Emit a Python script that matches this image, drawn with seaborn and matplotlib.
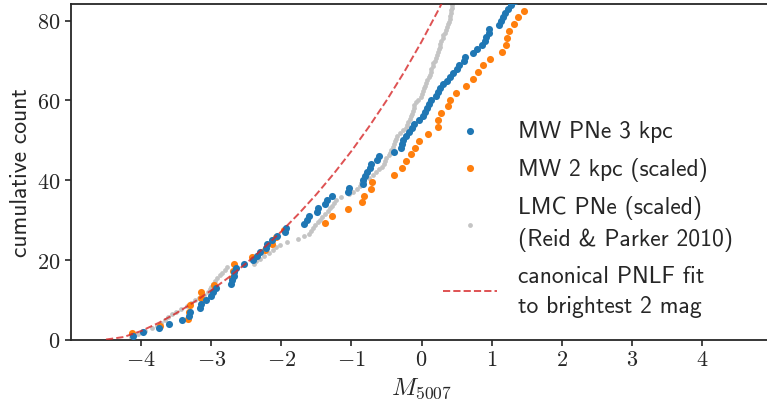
import numpy as np
import pandas as pd
import matplotlib
matplotlib.use("Agg")
import matplotlib.pyplot as plt
import seaborn as sns

# magnitudes (cumulative count = rank * scale)
mw3_mag = [-4.12, -3.97, -3.74, -3.60, -3.41, -3.31, -3.30, -3.16, -3.15, -3.08,
           -3.00, -2.98, -2.93, -2.72, -2.70, -2.68, -2.67, -2.65, -2.53, -2.40,
           -2.35, -2.30, -2.22, -2.20, -2.13, -2.06, -1.95, -1.93, -1.67, -1.64,
           -1.60, -1.49, -1.47, -1.37, -1.35, -1.27, -1.05, -1.04, -0.84, -0.83,
           -0.81, -0.78, -0.74, -0.72, -0.64, -0.61, -0.39, -0.29, -0.28, -0.27,
           -0.22, -0.18, -0.14, -0.10, -0.03, 0.02, 0.05, 0.08, 0.11, 0.14,
           0.20, 0.23, 0.26, 0.30, 0.36, 0.40, 0.45, 0.50, 0.53, 0.61,
           0.62, 0.73, 0.79, 0.87, 0.90, 0.92, 0.96, 0.97, 1.11, 1.13,
           1.16, 1.19, 1.23, 1.27, 1.33]
mw3_scale = 1.0

mw2_mag = [-4.13, -3.73, -3.33, -3.31, -3.30, -3.15, -3.14, -2.96, -2.70, -2.69,
           -2.67, -2.42, -2.23, -2.13, -2.08, -1.96, -1.37, -1.27, -1.05, -0.85,
           -0.82, -0.72, -0.71, -0.39, -0.28, -0.22, -0.15, -0.09, -0.03, 0.09,
           0.23, 0.24, 0.28, 0.38, 0.40, 0.49, 0.63, 0.73, 0.80, 0.88,
           0.98, 1.15, 1.20, 1.22, 1.25, 1.32, 1.37, 1.46]
mw2_scale = 1.72

lmc_mag = [-4.14, -4.04, -3.94, -3.85, -3.77, -3.71, -3.66, -3.61, -3.56, -3.50,
           -3.43, -3.35, -3.29, -3.23, -3.17, -3.10, -3.05, -3.02, -3.00, -2.98,
           -2.95, -2.92, -2.88, -2.85, -2.81, -2.78, -2.39, -2.36, -2.31, -2.25,
           -2.18, -2.12, -2.08, -2.02, -1.92, -1.76, -1.68, -1.61, -1.57, -1.55,
           -1.52, -1.48, -1.45, -1.42, -1.38, -1.34, -1.31, -1.28, -1.25, -1.22,
           -1.15, -1.04, -0.98, -0.92, -0.88, -0.86, -0.82, -0.75, -0.69, -0.65,
           -0.60, -0.56, -0.54, -0.52, -0.50, -0.47, -0.45, -0.43, -0.41, -0.39,
           -0.38, -0.36, -0.35, -0.31, -0.27, -0.22, -0.20, -0.19, -0.17, -0.15,
           -0.13, -0.12, -0.11, -0.10, -0.08, -0.05, -0.01, 0.01, 0.02, 0.03,
           0.05, 0.06, 0.08, 0.10, 0.12, 0.13, 0.14, 0.16, 0.17, 0.19,
           0.20, 0.22, 0.23, 0.25, 0.26, 0.27, 0.28, 0.30, 0.31, 0.33,
           0.35, 0.36, 0.38, 0.39, 0.40, 0.41, 0.42, 0.42, 0.43, 0.43,
           0.44, 0.45]
lmc_scale = 0.70

# dashed PNLF fit, sampled from the figure
fit_mag = [-4.50, -4.25, -4.00, -3.75, -3.50, -3.25, -3.00, -2.75, -2.50, -2.25,
           -2.00, -1.75, -1.50, -1.25, -1.00, -0.75, -0.50, -0.25, 0.00, 0.25, 0.50]
fit_count = [0.0, 0.62, 2.13, 4.17, 6.59, 9.32, 12.32, 15.59, 19.14, 22.97,
             27.11, 31.59, 36.42, 41.65, 47.28, 53.38, 59.94, 67.04, 74.71, 82.99, 91.92]

labels = ["MW PNe 3 kpc", "MW 2 kpc (scaled)",
          "LMC PNe (scaled)\n(Reid & Parker 2010)",
          "canonical PNLF fit\nto brightest 2 mag"]


def cumulative(mags, scale):
    mags = np.sort(np.asarray(mags))
    return pd.DataFrame({"M": mags, "N": scale * np.arange(1, len(mags) + 1)})


mw3 = cumulative(mw3_mag, mw3_scale)
mw2 = cumulative(mw2_mag, mw2_scale)
lmc = cumulative(lmc_mag, lmc_scale)
fit = pd.DataFrame({"M": fit_mag, "N": fit_count})

sns.set_theme(style="ticks")
plt.rcParams["font.family"] = "cmss10"
plt.rcParams["mathtext.fontset"] = "cm"
plt.rcParams["axes.formatter.use_mathtext"] = True
plt.rcParams["axes.unicode_minus"] = True

fig = plt.figure(figsize=(7.67, 4.06), dpi=100)
ax = fig.add_axes([71 / 767, 65.5 / 406, 701 / 767, 335.5 / 406])

sns.scatterplot(data=lmc, x="M", y="N", ax=ax, color="#c4c4c4", s=12,
                linewidth=0, label=labels[2], zorder=2)
sns.scatterplot(data=mw2, x="M", y="N", ax=ax, color="#ff7f0e", s=26,
                linewidth=0, label=labels[1], zorder=3)
sns.scatterplot(data=mw3, x="M", y="N", ax=ax, color="#1f77b4", s=26,
                linewidth=0, label=labels[0], zorder=4)
sns.lineplot(data=fit, x="M", y="N", ax=ax, color="#d62728", alpha=0.8,
             linestyle="--", linewidth=1.4, label=labels[3], sort=False, zorder=5)

ax.set_xlim(-5, 5)
ax.set_ylim(0, 84.2)
ax.set_xticks([-4, -3, -2, -1, 0, 1, 2, 3, 4])
ax.set_yticks([0, 20, 40, 60, 80])
ax.tick_params(labelsize=16, labelfontfamily="cmr10", length=4, width=1.2)
ax.spines["right"].set_visible(False)
for sp in ax.spines.values():
    sp.set_linewidth(1.3)

ax.set_xlabel(r"$M_{\mathsf{5007}}$", fontsize=18)
ax.set_ylabel("cumulative count", fontsize=17)

h, l = ax.get_legend_handles_labels()
order = [l.index(t) for t in labels]
leg = ax.legend([h[i] for i in order], [l[i] for i in order], loc="upper left",
                bbox_to_anchor=(0.562, 0.73), bbox_transform=fig.transFigure,
                frameon=False, fontsize=17, handlelength=2.3, handletextpad=0.9,
                borderpad=0, labelspacing=0.6)
for t in leg.get_texts():
    t.set_linespacing(1.45)

fig.savefig("out.png", dpi=100)
